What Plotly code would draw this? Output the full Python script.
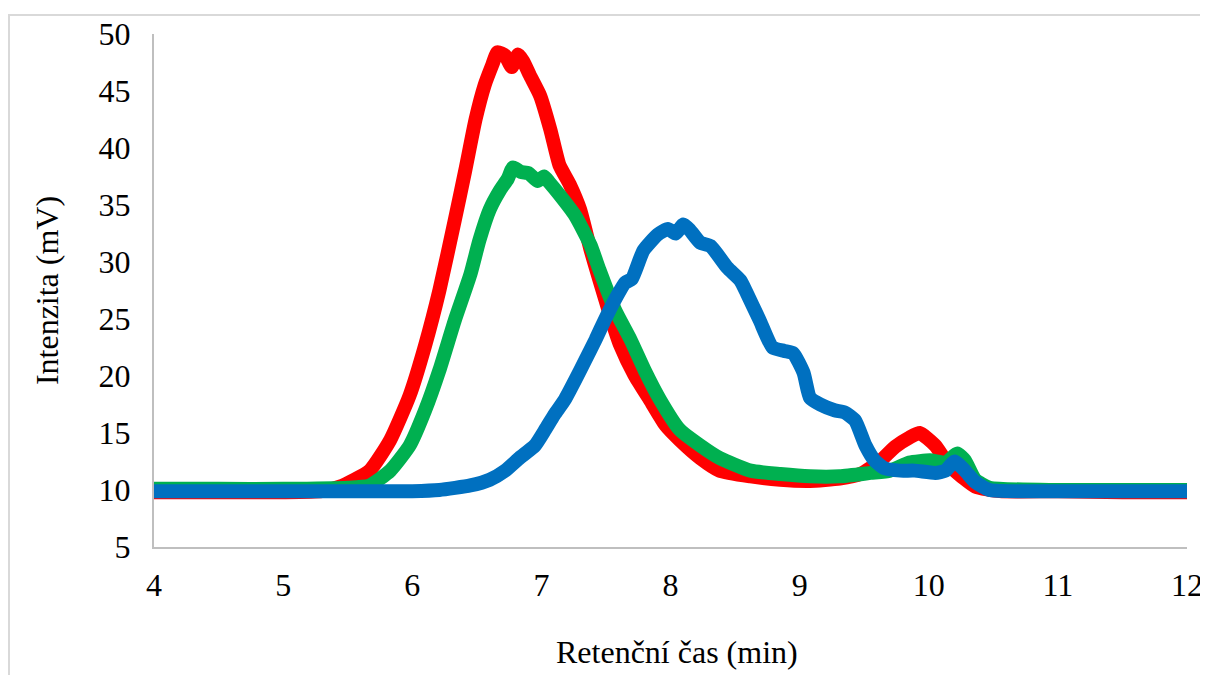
import plotly.graph_objects as go

red_x = [4.0, 4.5, 5.0, 5.3, 5.44, 5.67, 5.83, 5.98, 6.10, 6.21, 6.33, 6.41, 6.49, 6.56, 6.62, 6.66, 6.72, 6.77, 6.82, 6.86, 6.91, 6.99, 7.07, 7.14, 7.22, 7.30, 7.38, 7.45, 7.53, 7.61, 7.72, 7.84, 7.96, 8.07, 8.23, 8.38, 8.62, 8.85, 9.08, 9.31, 9.47, 9.62, 9.74, 9.85, 9.93, 10.05, 10.13, 10.20, 10.36, 10.55, 11.0, 11.5, 12.0]
red_y = [9.8, 9.8, 9.8, 9.9, 10.3, 11.7, 14.4, 18.3, 22.7, 27.5, 33.7, 38.0, 42.5, 45.5, 47.3, 48.4, 48.1, 47.1, 48.2, 47.6, 46.4, 44.6, 41.6, 38.5, 36.8, 34.6, 31.1, 28.4, 25.4, 22.7, 20.1, 17.9, 15.7, 14.4, 12.8, 11.7, 11.2, 10.9, 10.8, 11.0, 11.4, 12.5, 13.8, 14.6, 15.0, 13.9, 12.6, 11.7, 10.3, 9.9, 9.9, 9.8, 9.8]

green_x = [4.0, 4.5, 5.0, 5.5, 5.67, 5.83, 5.98, 6.10, 6.21, 6.33, 6.45, 6.52, 6.60, 6.68, 6.74, 6.78, 6.84, 6.90, 6.97, 7.02, 7.06, 7.14, 7.26, 7.38, 7.45, 7.57, 7.69, 7.80, 7.92, 8.07, 8.23, 8.38, 8.62, 8.85, 9.08, 9.31, 9.55, 9.70, 9.85, 10.01, 10.13, 10.22, 10.28, 10.36, 10.47, 11.0, 11.5, 12.0]
green_y = [10.1, 10.1, 10.1, 10.2, 10.4, 11.7, 13.9, 17.0, 20.5, 24.9, 28.9, 31.9, 34.6, 36.3, 37.3, 38.3, 37.9, 37.8, 37.1, 37.5, 37.0, 35.9, 34.1, 31.5, 29.3, 25.8, 23.2, 20.5, 17.9, 15.3, 13.9, 12.8, 11.7, 11.4, 11.2, 11.2, 11.5, 11.7, 12.4, 12.6, 12.4, 13.2, 12.6, 10.9, 10.2, 10.0, 10.0, 10.0]

blue_x = [4.0, 4.5, 5.0, 5.5, 6.0, 6.21, 6.45, 6.60, 6.72, 6.83, 6.95, 7.03, 7.10, 7.18, 7.26, 7.34, 7.42, 7.49, 7.57, 7.65, 7.70, 7.79, 7.90, 7.98, 8.04, 8.10, 8.15, 8.23, 8.31, 8.44, 8.54, 8.59, 8.69, 8.79, 8.88, 8.95, 9.03, 9.08, 9.16, 9.27, 9.35, 9.43, 9.51, 9.58, 9.66, 9.78, 9.89, 10.05, 10.13, 10.20, 10.28, 10.36, 10.47, 11.0, 11.5, 12.0]
blue_y = [9.9, 9.9, 9.9, 9.9, 9.9, 10.0, 10.4, 10.9, 11.7, 12.8, 13.9, 15.3, 16.6, 17.9, 19.6, 21.4, 23.2, 24.9, 26.7, 28.2, 28.5, 31.0, 32.4, 32.9, 32.5, 33.3, 32.8, 31.7, 31.4, 29.5, 28.4, 27.3, 24.9, 22.5, 22.2, 22.0, 20.3, 18.1, 17.5, 17.0, 16.8, 16.1, 13.9, 12.6, 11.9, 11.7, 11.7, 11.5, 11.7, 12.5, 11.7, 10.7, 10.0, 9.9, 9.9, 9.9]

x_title = "Retenční čas (min)"
y_title = "Intenzita (mV)"

FONT = "Times New Roman, Liberation Serif, serif"

fig = go.Figure()
for xs, ys, col in [(red_x, red_y, "#FF0000"), (green_x, green_y, "#00B050"), (blue_x, blue_y, "#0070C0")]:
    fig.add_trace(go.Scatter(x=xs, y=ys, mode="lines",
                             line=dict(color=col, width=14, shape="spline", smoothing=0.5),
                             showlegend=False, hoverinfo="skip"))

# page body has an 8px default margin, so the figure is 8px smaller
W, H = 1200, 667
L, R, T, B = 146, 1179, 26, 539
fig.update_layout(
    width=W, height=H,
    margin=dict(l=L, r=W - R, t=T, b=H - B, autoexpand=False),
    paper_bgcolor="white", plot_bgcolor="white",
    font=dict(family=FONT, size=32, color="black"),
    xaxis=dict(range=[4, 12], dtick=1, tick0=4, showgrid=False, zeroline=False,
               showline=True, linecolor="#BFBFBF", linewidth=2, ticks="",
               ticklabelstandoff=9, automargin=False),
    yaxis=dict(range=[5, 50], dtick=5, tick0=5, showgrid=False, zeroline=False,
               showline=True, linecolor="#BFBFBF", linewidth=2, ticks="",
               ticklabelstandoff=15, automargin=False,
               title=dict(text=y_title, standoff=30, font=dict(size=32))),
)

pw, ph = R - L, B - T
def px2x(p): return (p - L) / pw
def py2y(p): return (B - p) / ph

fig.add_annotation(text=x_title, xref="paper", yref="paper",
                   x=px2x(669), y=py2y(644), xanchor="center", yanchor="middle",
                   showarrow=False, font=dict(family=FONT, size=32, color="black"))

fig.add_shape(type="rect", xref="paper", yref="paper",
              x0=px2x(1), x1=px2x(1210), y0=py2y(680), y1=py2y(7),
              line=dict(color="#D9D9D9", width=2), fillcolor="rgba(0,0,0,0)", layer="below")

fig.write_html("out.html")
